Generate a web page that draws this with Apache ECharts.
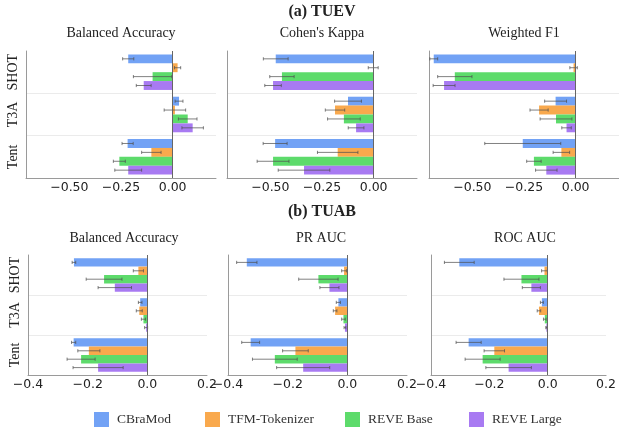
<!DOCTYPE html>
<html><head><meta charset="utf-8">
<script src="https://cdn.jsdelivr.net/npm/echarts@6/dist/echarts.min.js"></script>
<style>html,body{margin:0;padding:0;background:#fff}#c{width:619px;height:435px}</style>
</head><body><div id="c"></div>
<script>
const categories = ['SHOT', 'T3A', 'Tent'];
const models = ['CBraMod', 'TFM-Tokenizer', 'REVE Base', 'REVE Large'];
const colors = ['#72a2f5', '#f9a94d', '#5ddb6b', '#a87af2'];
const topTicks = [-0.5, -0.25, 0];
const bottomTicks = [-0.4, -0.2, 0, 0.2];

// rows: models (CBraMod, TFM-Tokenizer, REVE Base, REVE Large); cols: SHOT, T3A, Tent
const tuevBalAcc    = [[-0.215, 0.031, -0.218], [0.024, 0.011, -0.103], [-0.097, 0.073, -0.258], [-0.140, 0.097, -0.215]];
const tuevBalAccErr = [[0.027, 0.019, 0.027], [0.015, 0.052, 0.047], [0.093, 0.045, 0.029], [0.036, 0.052, 0.065]];
const tuevKappa     = [[-0.474, -0.124, -0.477], [-0.002, -0.187, -0.174], [-0.444, -0.144, -0.487], [-0.487, -0.085, -0.337]];
const tuevKappaErr  = [[0.060, 0.065, 0.058], [0.024, 0.047, 0.098], [0.059, 0.079, 0.077], [0.040, 0.038, 0.125]];
const tuevF1        = [[-0.687, -0.097, -0.256], [-0.010, -0.177, -0.069], [-0.585, -0.095, -0.202], [-0.637, -0.044, -0.142]];
const tuevF1Err     = [[0.019, 0.053, 0.184], [0.018, 0.044, 0.040], [0.083, 0.077, 0.035], [0.053, 0.023, 0.052]];
const tuabBalAcc    = [[-0.246, -0.024, -0.247], [-0.030, -0.027, -0.196], [-0.145, -0.013, -0.222], [-0.109, -0.004, -0.165]];
const tuabBalAccErr = [[0.006, 0.006, 0.007], [0.017, 0.010, 0.037], [0.060, 0.007, 0.047], [0.056, 0.005, 0.084]];
const tuabPrAuc     = [[-0.337, -0.030, -0.324], [-0.011, -0.041, -0.174], [-0.097, -0.013, -0.243], [-0.060, -0.008, -0.148]];
const tuabPrAucErr  = [[0.034, 0.007, 0.030], [0.008, 0.006, 0.043], [0.066, 0.006, 0.075], [0.032, 0.003, 0.089]];
const tuabRocAuc    = [[-0.303, -0.020, -0.271], [-0.011, -0.030, -0.183], [-0.090, -0.010, -0.223], [-0.056, -0.0045, -0.134]];
const tuabRocAucErr = [[0.051, 0.005, 0.043], [0.010, 0.006, 0.035], [0.060, 0.0045, 0.060], [0.031, 0.002, 0.078]];

const panels = [
  {mean: tuevBalAcc, err: tuevBalAccErr, row: 0},
  {mean: tuevKappa, err: tuevKappaErr, row: 0},
  {mean: tuevF1, err: tuevF1Err, row: 0},
  {mean: tuabBalAcc, err: tuabBalAccErr, row: 1},
  {mean: tuabPrAuc, err: tuabPrAucErr, row: 1},
  {mean: tuabRocAuc, err: tuabRocAucErr, row: 1}
];
const gridBoxes = [
  {left: 26, top: 51, width: 190, height: 127},
  {left: 227, top: 51, width: 190, height: 127},
  {left: 429, top: 51, width: 190, height: 127},
  {left: 28, top: 255, width: 179, height: 120},
  {left: 228, top: 255, width: 179, height: 120},
  {left: 431, top: 255, width: 179, height: 120}
];
const BAR_FRAC = 0.21;
const minus = '\u2212';
function fmt(v, d) { return (v < -1e-9 ? minus : '') + Math.abs(v).toFixed(d); }

const grid = gridBoxes.map(g => Object.assign({containLabel: false}, g));
const xAxis = panels.map((p, i) => ({
  type: 'value', gridIndex: i,
  min: p.row === 0 ? -0.71 : -0.4,
  max: p.row === 0 ? 0.21 : 0.2,
  splitLine: {show: false},
  axisLine: {show: true, lineStyle: {color: '#9a9a9a', width: 1}},
  axisTick: {show: false},
  axisLabel: {
    customValues: p.row === 0 ? topTicks : bottomTicks,
    formatter: v => fmt(v, p.row === 0 ? 2 : 1),
    fontFamily: 'DejaVu Sans', fontSize: 12.5, color: '#222', margin: 3
  }
}));
const yAxis = panels.map((p, i) => ({
  type: 'category', gridIndex: i, data: categories, inverse: true,
  axisLine: {show: true, onZero: false, lineStyle: {color: '#9a9a9a', width: 1}},
  axisTick: {show: false},
  axisLabel: {
    show: i === 0 || i === 3, rotate: 90, margin: 6, interval: 0,
    fontFamily: 'Liberation Serif', fontSize: 14, color: '#222'
  },
  splitLine: {show: true, interval: idx => idx > 0, lineStyle: {color: '#ebebeb', width: 1}}
}));

function errRender(k) {
  return function (params, api) {
    const x = api.value(0), ci = api.value(1), e = api.value(2);
    const c = api.coord([x, ci]);
    const band = api.size([0, 1], [x, ci])[1];
    const y = c[1] + (k - 1.5) * band * BAR_FRAC;
    const lo = api.coord([x - e, ci])[0], hi = api.coord([x + e, ci])[0];
    const st = {stroke: 'rgba(80,80,80,0.72)', lineWidth: 1};
    return {type: 'group', children: [
      {type: 'line', shape: {x1: lo, y1: y, x2: hi, y2: y}, style: st},
      {type: 'line', shape: {x1: lo, y1: y - 1.6, x2: lo, y2: y + 1.6}, style: st},
      {type: 'line', shape: {x1: hi, y1: y - 1.6, x2: hi, y2: y + 1.6}, style: st}
    ]};
  };
}

const series = [];
panels.forEach((p, i) => {
  models.forEach((m, k) => {
    const s = {
      type: 'bar', name: m, xAxisIndex: i, yAxisIndex: i,
      data: p.mean[k], barWidth: (BAR_FRAC * 100) + '%', barGap: '0%',
      itemStyle: {color: colors[k]}, silent: true, animation: false
    };
    if (k === 0) {
      s.markLine = {
        silent: true, symbol: 'none', animation: false,
        label: {show: false},
        lineStyle: {color: '#666', width: 1, type: 'solid'},
        data: [{xAxis: 0}], z: 10
      };
    }
    series.push(s);
  });
  models.forEach((m, k) => {
    series.push({
      type: 'custom', name: 'err-' + i + '-' + k, xAxisIndex: i, yAxisIndex: i,
      renderItem: errRender(k), z: 5, silent: true, animation: false,
      encode: {x: 0, y: 1},
      data: p.mean[k].map((v, ci) => [v, ci, p.err[k][ci]])
    });
  });
});

const legendX = [94, 205, 345, 469];
const legend = models.map((m, k) => ({
  data: [m], left: legendX[k], top: 412, padding: 0,
  itemWidth: 15, itemHeight: 15, icon: 'rect', selectedMode: false,
  textStyle: {fontFamily: 'Liberation Serif', fontSize: 13.5, color: '#333', padding: [0, 0, 0, 3]}
}));

function txt(t, x, y, size, bold) {
  return {type: 'text', x: x, y: y, silent: true,
    style: {text: t, align: 'center', verticalAlign: 'middle', fill: '#222',
      font: (bold ? 'bold ' : '') + size + 'px "Liberation Serif"'}};
}
const graphic = [
  txt('(a) TUEV', 322, 12, 16, true),
  txt('Balanced Accuracy', 121, 33, 14, false),
  txt("Cohen's Kappa", 322, 33, 14, false),
  txt('Weighted F1', 524, 33, 14, false),
  txt('(b) TUAB', 322, 212, 16, true),
  txt('Balanced Accuracy', 124, 238, 14, false),
  txt('PR AUC', 321, 238, 14, false),
  txt('ROC AUC', 525, 238, 14, false)
];

const chart = echarts.init(document.getElementById('c'), null, {renderer: 'canvas'});
chart.setOption({animation: false, backgroundColor: '#fff', grid, xAxis, yAxis, series, legend, graphic});
</script></body></html>
